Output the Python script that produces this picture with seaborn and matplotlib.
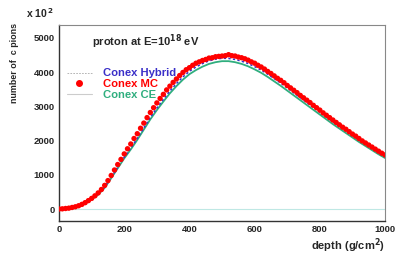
import numpy as np
import pandas as pd
import matplotlib
matplotlib.use("Agg")
import matplotlib.pyplot as plt
from matplotlib.lines import Line2D
from matplotlib.ticker import MultipleLocator
import seaborn as sns

# Conex CE / Hybrid curves (every 20 g/cm2)
depth_curve = [0, 20, 40, 60, 80, 100, 120, 140, 160, 180, 200, 220, 240, 260, 280, 300,
               320, 340, 360, 380, 400, 420, 440, 460, 480, 500, 520, 540, 560, 580, 600,
               620, 640, 660, 680, 700, 720, 740, 760, 780, 800, 820, 840, 860, 880, 900,
               920, 940, 960, 980, 1000]
ce_vals = [0, 10, 35, 80, 160, 280, 420, 620, 900, 1190, 1480, 1740, 2020, 2320, 2620, 2890,
           3140, 3380, 3590, 3780, 3940, 4060, 4160, 4240, 4290, 4320, 4320, 4290, 4240, 4170, 4080,
           3980, 3860, 3730, 3600, 3460, 3320, 3180, 3040, 2900, 2760, 2620, 2480, 2350, 2220, 2090,
           1960, 1840, 1720, 1600, 1490]
hybrid_vals = [0, 10, 38, 85, 168, 292, 438, 640, 925, 1220, 1515, 1780, 2065, 2370, 2675, 2950,
               3205, 3450, 3665, 3860, 4025, 4150, 4250, 4330, 4380, 4405, 4400, 4370, 4320, 4250, 4160,
               4060, 3940, 3810, 3680, 3540, 3395, 3255, 3115, 2970, 2830, 2690, 2550, 2415, 2285, 2150,
               2020, 1895, 1775, 1655, 1540]

# Conex MC points (every 10 g/cm2)
depth_mc = list(range(0, 1001, 10))
mc_vals = [0, 5, 15, 25, 45, 65, 95, 135, 185, 245,
           310, 385, 470, 570, 690, 830, 980, 1140, 1300, 1450,
           1610, 1760, 1900, 2060, 2200, 2360, 2510, 2670, 2820, 2960,
           3100, 3230, 3350, 3480, 3590, 3700, 3800, 3900, 3990, 4070,
           4130, 4200, 4260, 4300, 4340, 4370, 4410, 4420, 4450, 4460,
           4470, 4480, 4510, 4480, 4470, 4440, 4420, 4390, 4350, 4300,
           4260, 4200, 4150, 4090, 4020, 3960, 3890, 3820, 3760, 3690,
           3610, 3540, 3470, 3400, 3320, 3250, 3180, 3110, 3030, 2960,
           2890, 2810, 2740, 2670, 2600, 2530, 2460, 2390, 2330, 2260,
           2190, 2130, 2060, 1990, 1930, 1870, 1810, 1750, 1690, 1630,
           1580]

curves = pd.DataFrame({"depth": depth_curve, "ce": ce_vals, "hybrid": hybrid_vals})
mc = pd.DataFrame({"depth": depth_mc, "mc": mc_vals})

sns.set_style("white")
plt.rcParams["font.family"] = ["Liberation Sans", "DejaVu Sans"]
plt.rcParams["font.weight"] = "bold"

blue = "#3a2fc8"
red = "#ff0000"
green = "#2fae7e"

fig = plt.figure(figsize=(3.99, 2.54), dpi=100)
ax = fig.add_axes([0.148, 0.130, 0.817, 0.772])

ax.axhline(0, color="#bfe8e4", lw=0.8, zorder=1)
sns.lineplot(data=curves, x="depth", y="ce", color=green, lw=1.3, ax=ax, zorder=2)
sns.lineplot(data=curves, x="depth", y="hybrid", color=blue, lw=1.1, ls=(0, (1.5, 1.5)), ax=ax, zorder=3)
sns.scatterplot(data=mc, x="depth", y="mc", color=red, s=15, edgecolor="none", ax=ax, zorder=4)

ax.set_xlim(0, 1000)
ax.set_ylim(-350, 5380)
ax.xaxis.set_major_locator(MultipleLocator(200))
ax.xaxis.set_minor_locator(MultipleLocator(50))
ax.yaxis.set_major_locator(MultipleLocator(1000))
ax.yaxis.set_minor_locator(MultipleLocator(200))
ax.tick_params(which="both", direction="in", top=False, right=False, labelsize=6.8, pad=3,
               color="#555555")
ax.tick_params(which="major", length=7, width=0.6)
ax.tick_params(which="minor", length=3.5, width=0.6)
for lab in ax.get_xticklabels() + ax.get_yticklabels():
    lab.set_fontweight("bold")
ax.set_xlabel("")
ax.set_ylabel("")
for side in ["left", "bottom"]:
    ax.spines[side].set_color("#333333")
    ax.spines[side].set_linewidth(1.0)
for side in ["top", "right"]:
    ax.spines[side].set_color("#888888")
    ax.spines[side].set_linewidth(0.8)

ax.text(0.101, 0.913, "proton at E=10$^{\\mathbf{18}}$ eV", transform=ax.transAxes,
        fontsize=8, fontweight="bold", va="center")

handles = [Line2D([], [], color="#aaaaaa", lw=0.6, ls=(0, (2, 1.5))),
           Line2D([], [], color=red, marker="o", ms=4, ls="none"),
           Line2D([], [], color="#cccccc", lw=0.8)]
leg = ax.legend(handles, ["Conex Hybrid", "Conex MC", "Conex CE"], loc="upper left",
                bbox_to_anchor=(0.0, 0.818), frameon=False, fontsize=8.1,
                labelcolor=[blue, red, green], handlelength=2.2, handletextpad=1.0,
                labelspacing=0.08, borderaxespad=0.3)
for t in leg.get_texts():
    t.set_fontweight("bold")

fig.text(0.066, 0.948, "x 10$^{\\,\\mathbf{2}}$", fontsize=7.5, fontweight="bold", va="center")
fig.text(0.036, 0.909, "number of  c pions", rotation=90, fontsize=6.4, fontweight="bold",
         ha="center", va="top")
fig.text(0.965, 0.032, "depth (g/cm$^{\\mathbf{2}}$)", fontsize=8, fontweight="bold",
         ha="right", va="center")

fig.savefig("out.png", dpi=100)
